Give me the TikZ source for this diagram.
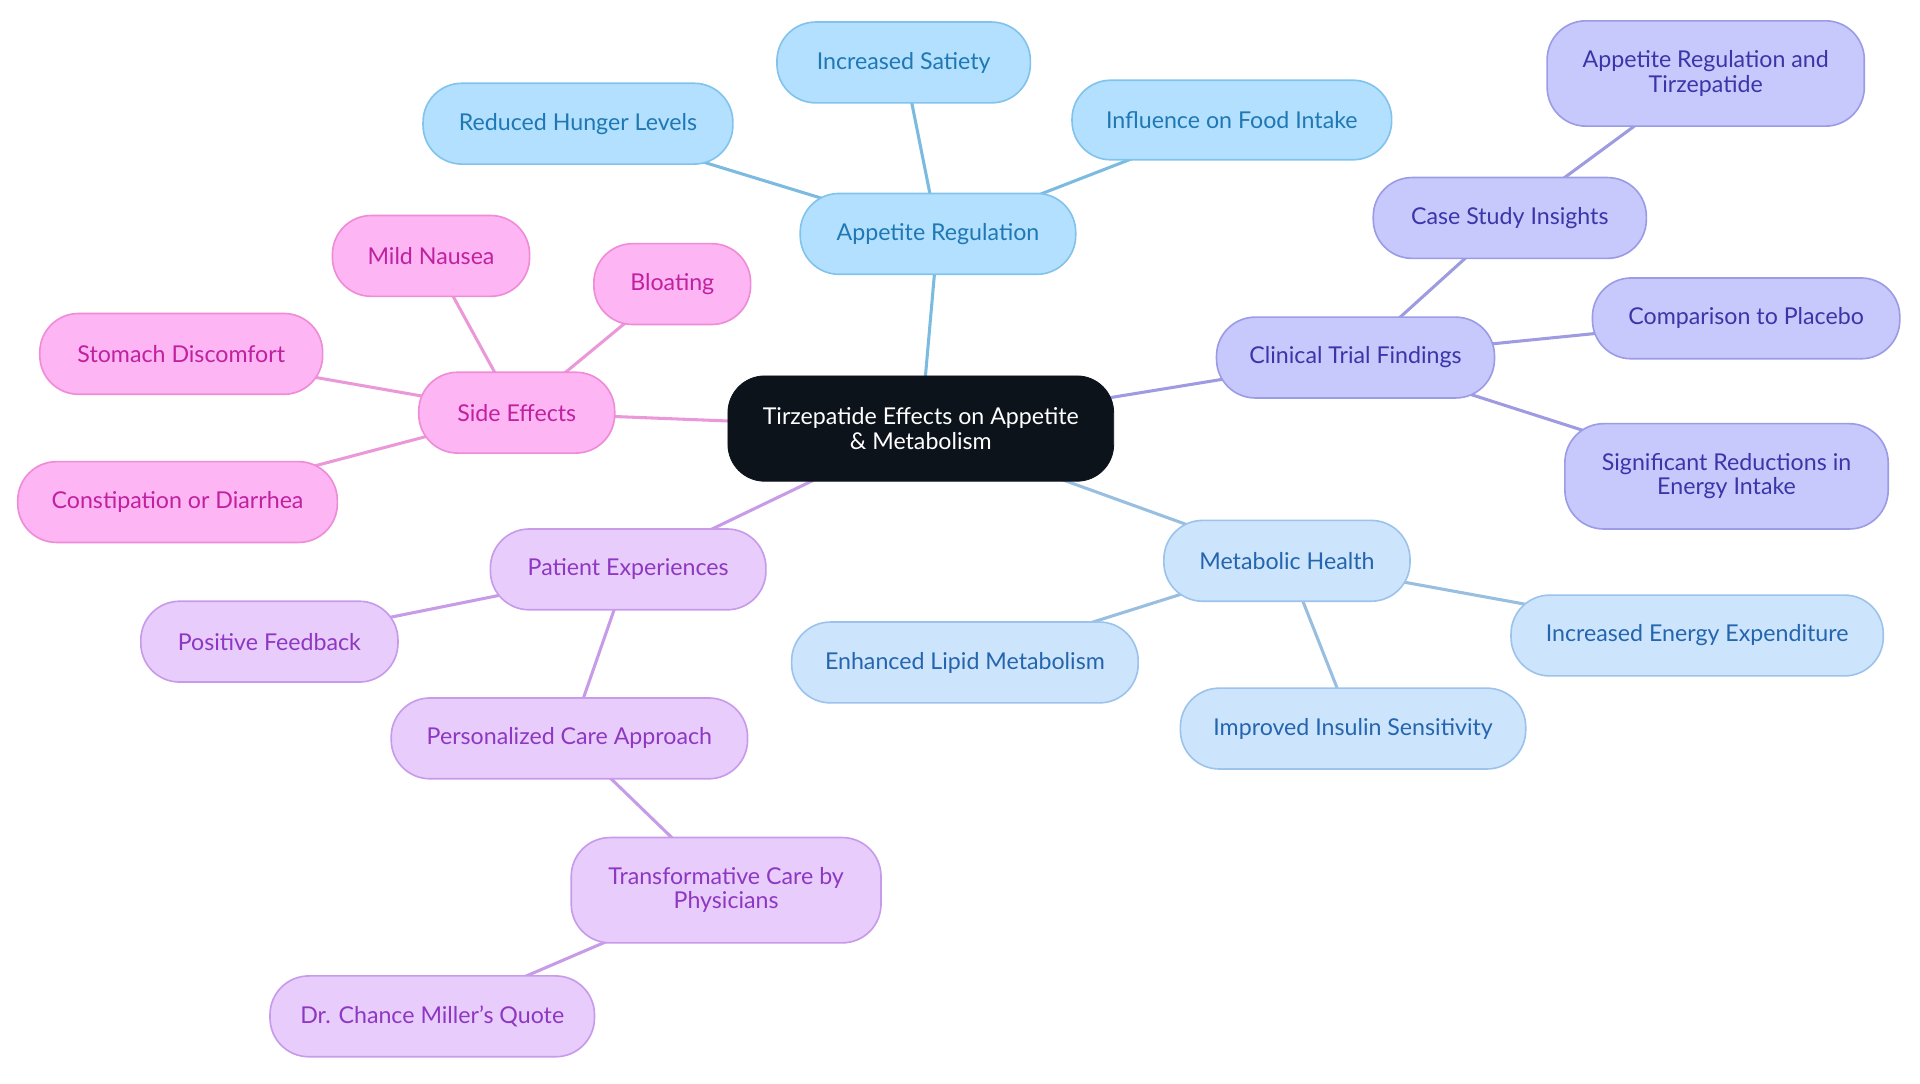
\documentclass[tikz,border=0pt]{standalone}
\usepackage{fontspec}
\setmainfont{Lato}
\usetikzlibrary{backgrounds}
\definecolor{bfill}{HTML}{B3E0FE}\definecolor{bdraw}{HTML}{82C3EC}\definecolor{btext}{HTML}{1F78B4}\definecolor{bedge}{HTML}{7CBBE0}
\definecolor{pfill}{HTML}{C7C8FC}\definecolor{pdraw}{HTML}{9C9BE6}\definecolor{ptext}{HTML}{3B35A8}\definecolor{pedge}{HTML}{9E9BE0}
\definecolor{mfill}{HTML}{CDE5FC}\definecolor{mdraw}{HTML}{9CC3EB}\definecolor{mtext}{HTML}{2465AE}\definecolor{medge}{HTML}{98BEE0}
\definecolor{lfill}{HTML}{E8CCFC}\definecolor{ldraw}{HTML}{C79BEA}\definecolor{ltext}{HTML}{8E38C2}\definecolor{ledge}{HTML}{C79BE6}
\definecolor{sfill}{HTML}{FDB5F3}\definecolor{sdraw}{HTML}{EE8CD8}\definecolor{stext}{HTML}{C0219F}\definecolor{sedge}{HTML}{EB98D8}
\definecolor{cfill}{HTML}{0D131B}
\begin{document}
\begin{tikzpicture}[x=0.6bp,y=-0.6bp,
  every node/.style={font=\fontsize{11.4}{12}\selectfont, align=center, inner sep=0pt},
  sz/.style 2 args={minimum width=#1*0.6bp, minimum height=#2*0.6bp},
  box/.style={rectangle, rounded corners=19bp, line width=0.8bp},
  blue/.style={box, fill=bfill, draw=bdraw, text=btext},
  purp/.style={box, fill=pfill, draw=pdraw, text=ptext},
  meta/.style={box, fill=mfill, draw=mdraw, text=mtext},
  lav/.style={box, fill=lfill, draw=ldraw, text=ltext},
  pink/.style={box, fill=sfill, draw=sdraw, text=stext},
  root/.style={rectangle, rounded corners=18bp, fill=cfill, draw=cfill, text=white},
  edge/.style={line width=1.5bp}]
\useasboundingbox (0,0) rectangle (1568,884.5);
\node[root, sz={315}{86}] (c) at (752,350) {Tirzepatide Effects on Appetite\\\& Metabolism};
% appetite regulation
\node[blue, sz={225}{66}] (ar) at (766,191) {Appetite Regulation};
\node[blue, sz={207}{66}] (is) at (738,51) {Increased Satiety};
\node[blue, sz={253}{66}] (rh) at (472,101) {Reduced Hunger Levels};
\node[blue, sz={261}{65}] (fi) at (1006,98) {Influence on Food Intake};
% clinical trial
\node[purp, sz={227}{66}] (ct) at (1107,292) {Clinical Trial Findings};
\node[purp, sz={223}{66}] (cs) at (1233,178) {Case Study Insights};
\node[purp, sz={259}{86}] (art) at (1393,60) {Appetite Regulation and\\Tirzepatide};
\node[purp, sz={251}{66}] (cp) at (1426,260) {Comparison to Placebo};
\node[purp, sz={264}{86}] (sr) at (1410,389) {Significant Reductions in\\Energy Intake};
% metabolic
\node[meta, sz={201}{66}] (mh) at (1051,458) {Metabolic Health};
\node[meta, sz={283}{66}] (el) at (788,541) {Enhanced Lipid Metabolism};
\node[meta, sz={282}{66}] (ii) at (1105,595) {Improved Insulin Sensitivity};
\node[meta, sz={304}{66}] (ie) at (1386,519) {Increased Energy Expenditure};
% patient
\node[lav, sz={225}{66}] (pe) at (513,465) {Patient Experiences};
\node[lav, sz={210}{66}] (pf) at (220,524) {Positive Feedback};
\node[lav, sz={291}{66}] (pc) at (465,603) {Personalized Care Approach};
\node[lav, sz={253}{86}] (tc) at (593,727) {Transformative Care by\\Physicians};
\node[lav, sz={265}{66}] (dq) at (353,830) {Dr. Chance Miller's Quote};
% side effects
\node[pink, sz={160}{66}] (se) at (422,337) {Side Effects};
\node[pink, sz={161}{66}] (mn) at (352,209) {Mild Nausea};
\node[pink, sz={128}{66}] (bl) at (549,232) {Bloating};
\node[pink, sz={231}{66}] (sd) at (148,289) {Stomach Discomfort};
\node[pink, sz={261}{66}] (cd) at (145,410) {Constipation or Diarrhea};
\begin{pgfonlayer}{background}
\draw[edge, bedge] (c.center) -- (ar.center);
\draw[edge, bedge] (ar.center) -- (is.center);
\draw[edge, bedge] (ar.center) -- (rh.center);
\draw[edge, bedge] (ar.center) -- (fi.center);
\draw[edge, pedge] (c.center) -- (ct.center);
\draw[edge, pedge] (ct.center) -- (cs.center);
\draw[edge, pedge] (cs.center) -- (art.center);
\draw[edge, pedge] (ct.center) -- (cp.center);
\draw[edge, pedge] (ct.center) -- (sr.center);
\draw[edge, medge] (c.center) -- (mh.center);
\draw[edge, medge] (mh.center) -- (el.center);
\draw[edge, medge] (mh.center) -- (ii.center);
\draw[edge, medge] (mh.center) -- (ie.center);
\draw[edge, ledge] (c.center) -- (pe.center);
\draw[edge, ledge] (pe.center) -- (pf.center);
\draw[edge, ledge] (pe.center) -- (pc.center);
\draw[edge, ledge] (pc.center) -- (tc.center);
\draw[edge, ledge] (tc.center) -- (dq.center);
\draw[edge, sedge] (c.center) -- (se.center);
\draw[edge, sedge] (se.center) -- (mn.center);
\draw[edge, sedge] (se.center) -- (bl.center);
\draw[edge, sedge] (se.center) -- (sd.center);
\draw[edge, sedge] (se.center) -- (cd.center);
\end{pgfonlayer}
\end{tikzpicture}
\end{document}
